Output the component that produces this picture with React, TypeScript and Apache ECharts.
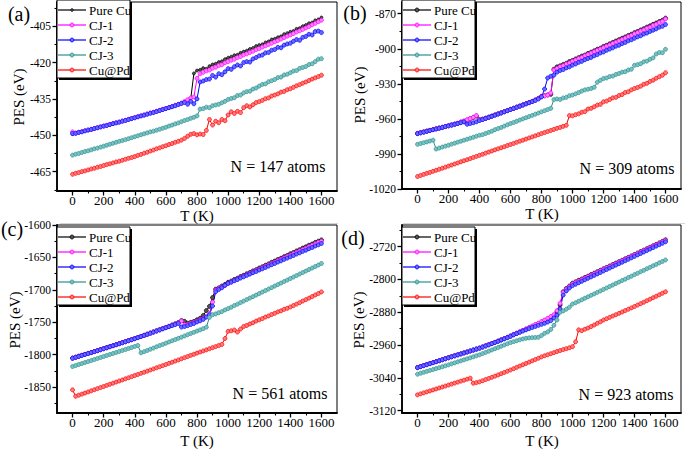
import React, { useEffect, useRef } from "react";
import * as echarts from "echarts";

const T = [0,20,40,60,80,100,120,140,160,180,200,220,240,260,280,300,320,340,360,380,400,420,440,460,480,500,520,540,560,580,600,620,640,660,680,700,720,740,760,780,800,820,840,860,880,900,920,940,960,980,1000,1020,1040,1060,1080,1100,1120,1140,1160,1180,1200,1220,1240,1260,1280,1300,1320,1340,1360,1380,1400,1420,1440,1460,1480,1500,1520,1540,1560,1580,1600];

// ---------- panel (a) N = 147 ----------
const aPure = [-449.5,-449.2,-448.9,-448.5,-448.2,-447.9,-447.6,-447.3,-446.9,-446.6,
 -446.3,-445.9,-445.6,-445.2,-444.9,-444.5,-444.2,-443.8,-443.5,-443.1,
 -442.8,-442.4,-442.0,-441.6,-441.3,-440.9,-440.5,-440.1,-439.8,-439.4,
 -439.0,-438.6,-438.1,-437.7,-437.2,-436.8,-436.2,-435.5,-434.8,-424.5,
 -423.3,-423.0,-422.3,-422.6,-421.5,-420.8,-420.5,-419.8,-419.5,-418.6,
 -418.0,-417.6,-417.0,-416.8,-416.0,-415.5,-415.1,-414.4,-414.0,-413.2,
 -412.8,-412.5,-411.7,-411.3,-410.5,-410.2,-409.6,-409.2,-408.3,-407.9,
 -407.3,-407.0,-406.1,-405.8,-405.0,-404.5,-403.8,-403.5,-402.6,-402.2,
 -401.4];
const aCJ1 = [-448.6,-449.1,-448.8,-448.5,-448.1,-447.9,-447.5,-447.2,-446.9,-446.5,
 -446.2,-445.9,-445.5,-445.2,-444.8,-444.5,-444.1,-443.8,-443.4,-443.1,
 -442.7,-442.3,-442.0,-441.6,-441.2,-440.8,-440.5,-440.1,-439.7,-439.3,
 -438.9,-438.5,-438.1,-437.6,-437.2,-436.7,-436.1,-435.3,-434.6,-434.2,
 -426.5,-424.6,-424.0,-423.4,-423.1,-422.3,-421.9,-421.2,-420.9,-420.1,
 -419.6,-419.0,-418.6,-417.9,-417.5,-416.8,-416.4,-415.8,-415.3,-414.7,
 -414.2,-413.6,-413.1,-412.5,-412.0,-411.4,-410.9,-410.3,-409.7,-409.1,
 -408.6,-408.0,-407.4,-406.9,-406.3,-405.7,-405.1,-404.4,-403.8,-403.1,
 -402.5];
const aCJ2 = [-449.3,-449.2,-448.8,-448.6,-448.2,-447.8,-447.6,-447.2,-446.9,-446.6,
 -446.2,-446.0,-445.6,-445.2,-444.9,-444.6,-444.2,-443.9,-443.5,-443.1,
 -442.8,-442.4,-442.0,-441.7,-441.3,-440.9,-440.6,-440.2,-439.8,-439.4,
 -439.0,-438.6,-438.2,-437.8,-437.3,-436.9,-436.5,-437.2,-436.0,-437.0,
 -435.0,-428.0,-427.6,-427.0,-426.8,-425.3,-426.0,-424.6,-425.0,-423.8,
 -422.5,-422.8,-421.7,-421.0,-421.4,-420.0,-419.6,-419.8,-418.5,-417.9,
 -417.2,-416.9,-416.0,-415.8,-414.9,-414.6,-413.7,-413.9,-412.8,-412.3,
 -412.0,-411.2,-410.5,-410.8,-409.6,-409.2,-408.3,-408.6,-407.2,-407.0,
 -407.6];
const aCJ3 = [-458.2,-457.8,-457.5,-457.1,-456.7,-456.4,-456.0,-455.6,-455.3,-454.9,
 -454.5,-454.1,-453.7,-453.3,-452.9,-452.5,-452.2,-451.8,-451.4,-451.0,
 -450.6,-450.2,-449.8,-449.4,-449.0,-448.6,-448.3,-447.9,-447.5,-447.1,
 -446.7,-446.2,-445.8,-445.3,-444.9,-444.4,-443.9,-443.5,-443.0,-442.6,
 -442.0,-439.2,-439.0,-438.4,-438.6,-437.8,-437.5,-437.2,-436.6,-436.0,
 -435.2,-434.8,-434.5,-433.6,-433.4,-432.5,-432.0,-431.8,-430.9,-430.5,
 -429.7,-429.0,-428.8,-427.9,-427.5,-427.0,-426.2,-426.0,-425.1,-424.8,
 -424.2,-423.5,-423.3,-422.4,-422.0,-421.6,-420.8,-420.5,-419.6,-418.6,
 -418.4];
const aCuPd = [-466.1,-465.7,-465.4,-465.0,-464.7,-464.3,-463.9,-463.6,-463.2,-462.9,
 -462.5,-462.1,-461.8,-461.4,-461.0,-460.7,-460.3,-459.9,-459.5,-459.2,
 -458.8,-458.3,-457.9,-457.4,-457.0,-456.5,-456.1,-455.6,-455.2,-454.7,
 -454.3,-453.8,-453.4,-452.9,-452.5,-452.0,-451.3,-450.4,-449.6,-449.3,
 -449.8,-449.5,-449.7,-448.0,-443.5,-445.8,-444.2,-444.8,-443.5,-444.0,
 -441.6,-440.3,-441.0,-440.1,-440.6,-438.6,-437.8,-438.3,-437.4,-436.5,
 -436.1,-435.6,-434.9,-434.6,-433.8,-433.4,-432.9,-432.2,-431.9,-431.2,
 -430.8,-430.2,-429.6,-429.1,-428.5,-428.0,-427.4,-426.8,-426.3,-425.8,
 -425.2];

// ---------- panel (b) N = 309 ----------
const bPure = [-972.5,-971.8,-971.2,-970.5,-969.8,-969.2,-968.5,-967.8,-967.2,-966.5,
 -965.8,-965.2,-964.5,-963.8,-962.8,-962.0,-961.0,-959.9,-958.8,-957.6,
 -960.6,-960.2,-959.4,-958.5,-957.6,-956.6,-955.7,-954.8,-953.8,-952.8,
 -951.8,-950.9,-949.9,-949.0,-948.0,-947.0,-946.0,-945.0,-943.8,-942.4,
 -940.8,-940.2,-939.5,-939.0,-917.5,-915.5,-914.6,-913.4,-912.4,-911.0,
 -910.0,-908.7,-907.6,-906.3,-905.4,-904.0,-902.9,-901.8,-900.4,-899.5,
 -898.0,-897.0,-895.8,-894.6,-893.4,-892.2,-891.0,-889.9,-888.6,-887.6,
 -886.2,-885.2,-883.9,-882.8,-881.5,-880.4,-879.1,-878.0,-876.7,-875.6,
 -873.8];
const bCJ1 = [-972.4,-971.9,-971.2,-970.5,-969.9,-969.2,-968.5,-967.9,-967.2,-966.5,
 -965.9,-965.2,-964.5,-963.9,-962.6,-961.8,-960.8,-959.8,-958.6,-957.2,
 -960.8,-960.3,-959.5,-958.6,-957.7,-956.7,-955.8,-954.9,-953.9,-952.9,
 -951.9,-951.0,-950.0,-949.1,-948.1,-947.1,-946.1,-945.1,-944.0,-942.6,
 -941.0,-940.4,-939.6,-937.8,-918.2,-916.8,-915.4,-914.5,-913.0,-912.2,
 -910.7,-909.7,-908.3,-907.4,-906.0,-905.0,-903.7,-902.6,-901.4,-900.2,
 -899.1,-897.8,-896.8,-895.5,-894.4,-893.2,-892.0,-890.9,-889.6,-888.6,
 -887.2,-886.2,-884.8,-883.9,-882.4,-881.5,-880.0,-879.1,-877.6,-876.6,
 -874.5];
const bCJ2 = [-972.6,-972.0,-971.3,-970.6,-970.0,-969.3,-968.6,-968.0,-967.3,-966.6,
 -966.0,-965.3,-964.6,-964.0,-963.3,-962.6,-964.6,-964.0,-963.3,-962.5,
 -961.5,-960.6,-959.6,-958.7,-957.8,-956.8,-955.9,-955.0,-954.0,-953.0,
 -952.0,-951.1,-950.1,-949.2,-948.2,-947.2,-946.2,-945.2,-944.2,-943.0,
 -941.2,-934.5,-925.0,-923.5,-922.6,-920.0,-918.6,-917.8,-916.4,-915.5,
 -914.0,-913.0,-911.6,-910.8,-909.4,-908.3,-907.4,-906.0,-905.0,-903.6,
 -902.8,-901.3,-900.3,-899.2,-897.8,-897.0,-895.6,-894.6,-893.2,-892.3,
 -891.0,-889.8,-888.9,-887.4,-886.6,-885.2,-884.1,-883.0,-881.5,-880.8,
 -879.3];
const bCJ3 = [-981.8,-981.1,-980.4,-979.7,-979.0,-978.2,-985.8,-985.0,-984.1,-983.3,
 -982.5,-981.6,-980.8,-979.9,-979.1,-978.2,-977.4,-976.5,-975.7,-974.8,
 -974.0,-973.5,-972.5,-971.5,-970.5,-969.2,-968.3,-967.3,-966.2,-965.1,
 -964.0,-963.1,-962.1,-961.0,-960.0,-959.0,-958.0,-957.0,-956.0,-955.0,
 -954.0,-953.0,-952.0,-951.0,-943.5,-943.0,-943.4,-942.1,-941.6,-940.2,
 -939.6,-938.6,-937.5,-936.2,-935.2,-934.6,-934.0,-933.0,-928.6,-927.0,
 -925.5,-925.0,-923.8,-923.4,-922.0,-921.2,-920.0,-919.6,-918.2,-917.5,
 -914.2,-913.6,-912.8,-911.2,-910.6,-909.0,-907.8,-904.5,-903.2,-903.4,
 -900.5];
const bCuPd = [-1009.3,-1008.4,-1007.5,-1006.6,-1005.8,-1004.9,-1004.0,-1003.1,-1002.2,-1001.3,
 -1000.4,-999.5,-998.6,-997.7,-996.7,-995.8,-994.9,-994.0,-993.0,-992.1,
 -991.2,-990.3,-989.3,-988.4,-987.5,-986.5,-985.6,-984.7,-983.8,-982.8,
 -981.9,-981.0,-980.0,-979.1,-978.2,-977.3,-976.3,-975.4,-974.5,-973.5,
 -972.6,-971.7,-970.8,-969.9,-969.0,-968.1,-967.3,-966.4,-965.5,-957.2,
 -957.4,-956.4,-955.7,-954.3,-953.8,-951.6,-951.0,-949.7,-948.2,-947.6,
 -945.4,-944.8,-943.5,-942.0,-941.6,-940.0,-939.2,-937.4,-936.8,-935.2,
 -934.0,-933.1,-932.0,-930.4,-929.6,-928.0,-926.9,-925.2,-923.9,-922.6,
 -920.5];

// ---------- panel (c) N = 561 ----------
const cPure = [-1805.3,-1803.9,-1802.4,-1801.0,-1799.5,-1798.0,-1796.6,-1795.1,-1793.7,-1792.2,
 -1790.7,-1789.2,-1787.6,-1786.1,-1784.5,-1783.0,-1781.4,-1779.9,-1778.3,-1776.8,
 -1775.2,-1773.5,-1771.8,-1770.1,-1768.4,-1766.7,-1765.0,-1763.3,-1761.6,-1759.9,
 -1758.2,-1756.2,-1754.2,-1752.4,-1750.5,-1747.5,-1748.6,-1751.5,-1750.2,-1748.8,
 -1746.2,-1744.0,-1739.5,-1732.0,-1725.5,-1712.0,-1699.0,-1697.0,-1694.2,-1691.6,
 -1688.4,-1686.5,-1684.0,-1682.1,-1679.6,-1677.6,-1675.2,-1673.3,-1670.8,-1668.9,
 -1666.4,-1664.5,-1662.0,-1660.0,-1657.6,-1655.6,-1653.2,-1651.3,-1648.8,-1646.9,
 -1644.4,-1642.5,-1640.0,-1638.1,-1635.6,-1633.7,-1631.2,-1629.4,-1626.8,-1625.0,
 -1623.0];
const cCJ1 = [-1805.4,-1804.0,-1802.5,-1801.1,-1799.6,-1798.1,-1796.7,-1795.2,-1793.8,-1792.3,
 -1790.8,-1789.3,-1787.7,-1786.2,-1784.6,-1783.1,-1781.5,-1780.0,-1778.4,-1776.9,
 -1775.3,-1773.6,-1771.9,-1770.2,-1768.5,-1766.8,-1765.1,-1763.4,-1761.7,-1760.0,
 -1758.3,-1756.5,-1754.6,-1752.8,-1751.0,-1748.0,-1754.0,-1753.6,-1752.0,-1750.4,
 -1748.2,-1746.4,-1744.5,-1741.8,-1736.5,-1719.0,-1701.0,-1698.0,-1695.6,-1692.8,
 -1690.0,-1687.6,-1685.6,-1683.3,-1681.2,-1679.0,-1676.8,-1674.6,-1672.5,-1670.3,
 -1668.2,-1666.0,-1663.8,-1661.7,-1659.5,-1657.4,-1655.2,-1653.0,-1650.9,-1648.7,
 -1646.6,-1644.4,-1642.2,-1640.1,-1637.9,-1635.8,-1633.6,-1631.4,-1629.3,-1627.1,
 -1625.0];
const cCJ2 = [-1805.5,-1804.1,-1802.6,-1801.2,-1799.7,-1798.2,-1796.8,-1795.3,-1793.9,-1792.4,
 -1790.9,-1789.4,-1787.8,-1786.3,-1784.7,-1783.2,-1781.6,-1780.1,-1778.5,-1777.0,
 -1775.4,-1773.7,-1772.0,-1770.3,-1768.6,-1766.9,-1765.2,-1763.5,-1761.8,-1760.1,
 -1758.4,-1756.8,-1755.2,-1753.6,-1752.0,-1757.5,-1756.6,-1755.2,-1753.5,-1752.0,
 -1749.5,-1747.8,-1745.6,-1742.0,-1738.5,-1725.0,-1703.0,-1699.5,-1696.8,-1693.2,
 -1690.0,-1688.2,-1686.0,-1684.1,-1681.8,-1679.9,-1677.7,-1675.8,-1673.6,-1671.7,
 -1669.5,-1667.6,-1665.4,-1663.4,-1661.3,-1659.3,-1657.2,-1655.3,-1653.0,-1651.1,
 -1649.0,-1647.0,-1644.8,-1643.0,-1640.6,-1638.8,-1636.6,-1634.7,-1632.4,-1630.6,
 -1628.5];
const cCJ3 = [-1818.3,-1816.8,-1815.2,-1813.7,-1812.1,-1810.6,-1809.0,-1807.5,-1805.9,-1804.4,
 -1802.8,-1801.3,-1799.7,-1798.2,-1796.6,-1795.1,-1793.5,-1792.0,-1790.4,-1788.9,
 -1787.3,-1785.8,-1797.2,-1795.4,-1793.5,-1791.6,-1789.8,-1787.9,-1786.0,-1784.2,
 -1782.3,-1780.4,-1778.6,-1776.7,-1774.8,-1773.0,-1771.1,-1769.2,-1767.4,-1765.5,
 -1763.6,-1761.8,-1759.9,-1757.6,-1742.5,-1738.4,-1737.2,-1735.3,-1733.6,-1731.0,
 -1729.0,-1726.8,-1724.3,-1722.1,-1719.7,-1717.4,-1715.1,-1712.7,-1710.5,-1708.1,
 -1705.8,-1703.5,-1701.2,-1698.8,-1696.6,-1694.2,-1691.9,-1689.6,-1687.2,-1685.0,
 -1682.6,-1680.3,-1678.0,-1675.6,-1673.4,-1671.0,-1668.7,-1666.4,-1664.0,-1661.8,
 -1659.3];
const cCuPd = [-1854.3,-1864.2,-1862.5,-1860.9,-1859.2,-1857.5,-1855.8,-1854.1,-1852.4,-1850.8,
 -1849.1,-1847.4,-1845.7,-1844.0,-1842.3,-1840.6,-1839.0,-1837.3,-1835.6,-1833.9,
 -1832.2,-1830.5,-1828.8,-1827.1,-1825.4,-1823.7,-1822.0,-1820.3,-1818.6,-1816.9,
 -1815.2,-1813.4,-1811.7,-1809.9,-1808.2,-1806.4,-1804.6,-1802.9,-1801.1,-1799.4,
 -1797.6,-1795.9,-1794.3,-1792.6,-1790.9,-1789.2,-1787.6,-1785.9,-1784.2,-1775.0,
 -1764.0,-1763.2,-1762.0,-1765.2,-1760.5,-1756.5,-1755.0,-1752.6,-1750.8,-1748.2,
 -1746.2,-1744.4,-1742.0,-1740.3,-1738.0,-1736.2,-1734.0,-1732.4,-1730.1,-1728.5,
 -1726.5,-1724.3,-1722.0,-1719.8,-1717.3,-1715.1,-1712.8,-1710.4,-1708.0,-1705.8,
 -1703.2];

// ---------- panel (d) N = 923 ----------
const dPure = [-3015.0,-3012.6,-3010.2,-3007.8,-3005.4,-3003.0,-3000.6,-2998.2,-2995.8,-2993.4,
 -2991.0,-2988.6,-2986.3,-2983.9,-2981.6,-2979.2,-2976.9,-2974.5,-2972.2,-2969.8,
 -2967.5,-2964.8,-2962.0,-2959.2,-2956.3,-2953.4,-2950.4,-2947.4,-2944.3,-2941.2,
 -2938.0,-2934.7,-2931.4,-2928.0,-2924.6,-2921.2,-2917.8,-2914.4,-2911.0,-2907.5,
 -2904.0,-2900.0,-2896.5,-2892.0,-2887.5,-2879.0,-2862.0,-2830.0,-2822.0,-2816.0,
 -2809.0,-2805.8,-2802.0,-2798.8,-2795.0,-2791.8,-2788.0,-2784.6,-2781.0,-2777.6,
 -2774.0,-2770.6,-2767.0,-2763.6,-2760.0,-2756.5,-2753.0,-2749.5,-2746.0,-2742.5,
 -2739.0,-2735.4,-2731.9,-2728.4,-2724.8,-2721.3,-2717.7,-2714.2,-2710.6,-2707.0,
 -2703.0];
const dCJ1 = [-3015.1,-3012.7,-3010.3,-3007.9,-3005.5,-3003.1,-3000.7,-2998.3,-2995.9,-2993.5,
 -2991.1,-2988.7,-2986.4,-2984.0,-2981.7,-2979.3,-2977.0,-2974.6,-2972.3,-2969.9,
 -2967.6,-2964.9,-2962.1,-2959.3,-2956.4,-2953.5,-2950.5,-2947.5,-2944.4,-2941.3,
 -2938.1,-2934.6,-2931.2,-2927.8,-2924.3,-2920.8,-2917.3,-2913.8,-2910.2,-2906.6,
 -2903.0,-2899.0,-2895.0,-2890.6,-2886.0,-2876.0,-2858.0,-2831.5,-2824.0,-2817.6,
 -2811.0,-2807.5,-2804.0,-2800.4,-2796.9,-2793.3,-2789.8,-2786.3,-2782.7,-2779.2,
 -2775.6,-2772.1,-2768.6,-2765.0,-2761.5,-2757.9,-2754.4,-2750.9,-2747.3,-2743.8,
 -2740.2,-2736.7,-2733.2,-2729.6,-2726.1,-2722.5,-2719.0,-2715.5,-2711.9,-2708.4,
 -2705.0];
const dCJ2 = [-3015.2,-3012.8,-3010.4,-3008.0,-3005.6,-3003.2,-3000.8,-2998.4,-2996.0,-2993.6,
 -2991.2,-2988.8,-2986.5,-2984.1,-2981.8,-2979.4,-2977.1,-2974.7,-2972.4,-2970.0,
 -2967.7,-2965.0,-2962.3,-2959.5,-2956.7,-2953.8,-2950.9,-2947.9,-2944.9,-2941.9,
 -2938.8,-2935.2,-2932.0,-2929.0,-2926.0,-2923.0,-2920.0,-2917.2,-2914.6,-2912.0,
 -2909.5,-2907.0,-2904.0,-2900.5,-2894.0,-2887.0,-2872.0,-2838.0,-2828.0,-2821.0,
 -2815.0,-2811.4,-2807.9,-2804.3,-2800.7,-2797.2,-2793.6,-2790.0,-2786.4,-2782.9,
 -2779.3,-2775.7,-2772.2,-2768.6,-2765.0,-2761.5,-2757.9,-2754.3,-2750.7,-2747.2,
 -2743.6,-2740.0,-2736.5,-2732.9,-2729.3,-2725.8,-2722.2,-2718.6,-2715.0,-2711.5,
 -2708.0];
const dCJ3 = [-3031.2,-3028.9,-3026.7,-3024.4,-3022.1,-3019.9,-3017.6,-3015.3,-3013.0,-3010.8,
 -3008.5,-3006.0,-3003.6,-3001.1,-2998.7,-2996.2,-2993.8,-2991.3,-2988.9,-2986.4,
 -2984.0,-2981.0,-2978.0,-2975.0,-2972.0,-2969.0,-2966.0,-2963.0,-2960.0,-2957.0,
 -2954.0,-2951.8,-2949.6,-2947.4,-2945.2,-2943.5,-2942.6,-2942.0,-2941.5,-2941.2,
 -2937.0,-2931.5,-2928.0,-2922.0,-2912.0,-2899.0,-2880.0,-2876.8,-2872.5,-2867.6,
 -2860.0,-2856.8,-2853.0,-2849.6,-2845.8,-2842.4,-2838.6,-2835.2,-2831.4,-2828.0,
 -2824.2,-2820.8,-2817.0,-2813.6,-2809.8,-2806.4,-2802.6,-2799.2,-2795.4,-2792.0,
 -2788.2,-2784.8,-2781.0,-2777.6,-2773.8,-2770.4,-2766.6,-2763.2,-2759.4,-2756.0,
 -2752.4];
const dCuPd = [-3081.7,-3079.3,-3076.9,-3074.5,-3072.1,-3069.7,-3067.3,-3064.9,-3062.5,-3060.2,
 -3057.8,-3055.4,-3053.0,-3050.6,-3048.2,-3045.8,-3043.4,-3041.0,-3053.2,-3051.8,
 -3050.0,-3047.2,-3044.4,-3041.6,-3038.8,-3036.0,-3033.0,-3030.0,-3027.0,-3024.0,
 -3021.0,-3017.8,-3014.6,-3011.4,-3008.2,-3005.0,-3001.8,-2998.6,-2995.4,-2992.2,
 -2989.0,-2986.4,-2983.8,-2981.2,-2978.6,-2976.0,-2973.6,-2971.2,-2969.0,-2966.8,
 -2964.0,-2952.0,-2923.0,-2925.0,-2921.5,-2918.5,-2915.0,-2911.2,-2907.0,-2903.4,
 -2899.0,-2895.8,-2892.5,-2889.2,-2886.0,-2882.8,-2879.4,-2876.0,-2872.6,-2869.4,
 -2866.0,-2862.5,-2859.0,-2855.4,-2851.8,-2848.2,-2844.6,-2841.0,-2837.3,-2833.6,
 -2830.0];

const SERIES_NAMES = ["Pure Cu", "CJ-1", "CJ-2", "CJ-3", "Cu@Pd"];
const PANEL_DATA = [
  [aPure, aCJ1, aCJ2, aCJ3, aCuPd],
  [bPure, bCJ1, bCJ2, bCJ3, bCuPd],
  [cPure, cCJ1, cCJ2, cCJ3, cCuPd],
  [dPure, dCJ1, dCJ2, dCJ3, dCuPd],
];
const PANEL_LABELS = ["(a)", "(b)", "(c)", "(d)"];
const ATOM_LABELS = ["N = 147 atoms", "N = 309 atoms", "N = 561 atoms", "N = 923 atoms"];
const X_TICKS = [0, 200, 400, 600, 800, 1000, 1200, 1400, 1600];
const X_MINOR = [100, 300, 500, 700, 900, 1100, 1300, 1500];
const Y_TICKS = [
  [-465, -450, -435, -420, -405],
  [-1020, -990, -960, -930, -900, -870],
  [-1850, -1800, -1750, -1700, -1650, -1600],
  [-3120, -3040, -2960, -2880, -2800, -2720],
];
const Y_MINOR = [
  [-472.5, -457.5, -442.5, -427.5, -412.5, -397.5],
  [-1005, -975, -945, -915, -885],
  [-1875, -1825, -1775, -1725, -1675, -1625],
  [-3080, -3000, -2920, -2840, -2760, -2680],
];
const Y_RANGE = [[-473, -395], [-1020, -860], [-1890, -1600], [-3126, -2667]];
const X_RANGE = [-100, 1700];

// styles / layout
const COLORS = ["#000000", "#ff00ff", "#0000ff", "#2a8f8f", "#ff0000"];
const FILLS = ["#555555", "#ff7dff", "#6a6aff", "#7cc2c2", "#ff7a7a"];
const GRIDS = [
  { left: 57, top: 2, width: 280, height: 189 },
  { left: 402, top: 2, width: 279, height: 187 },
  { left: 57, top: 225, width: 280, height: 188 },
  { left: 402, top: 225, width: 279, height: 188 },
];
const LEGEND_BOX = [[57, 0], [402, 0], [57, 227], [402, 227]];
const FONT = "'Liberation Serif', 'Times New Roman', Times, serif";

export default function App() {
  const ref = useRef<HTMLDivElement>(null);
  useEffect(() => {
    if (!ref.current) return;
    const chart = echarts.init(ref.current, undefined, { renderer: "svg" });

    const grid: any[] = [];
    const xAxis: any[] = [];
    const yAxis: any[] = [];
    const series: any[] = [];
    const graphic: any[] = [];
    const plain = (v: number) => String(v);

    GRIDS.forEach((g) => {
      grid.push({ ...g, show: true, borderColor: "#000", borderWidth: 1, backgroundColor: "transparent" });
    });
    // main axes 0..3
    GRIDS.forEach((g, p) => {
      xAxis.push({
        type: "value", gridIndex: p, min: X_RANGE[0], max: X_RANGE[1], position: "bottom",
        axisLine: { show: true, onZero: false, lineStyle: { color: "#000", width: 1.8 } },
        axisTick: { show: true, inside: false, length: 4.5, customValues: X_TICKS, lineStyle: { color: "#000", width: 1.3 } },
        axisLabel: { show: true, customValues: X_TICKS, formatter: plain, margin: 3, fontFamily: FONT, fontSize: 13, color: "#000" },
        splitLine: { show: false },
      });
      yAxis.push({
        type: "value", gridIndex: p, min: Y_RANGE[p][0], max: Y_RANGE[p][1], position: "left",
        axisLine: { show: true, onZero: false, lineStyle: { color: "#000", width: 1.8 } },
        axisTick: { show: true, inside: false, length: 4.5, customValues: Y_TICKS[p], lineStyle: { color: "#000", width: 1.3 } },
        axisLabel: { show: true, customValues: Y_TICKS[p], formatter: plain, margin: 6, fontFamily: FONT, fontSize: 11.5, color: "#000" },
        splitLine: { show: false },
      });
    });
    // minor-tick axes 4..7
    GRIDS.forEach((g, p) => {
      xAxis.push({
        type: "value", gridIndex: p, min: X_RANGE[0], max: X_RANGE[1], position: "bottom",
        axisLine: { show: false, onZero: false },
        axisTick: { show: true, inside: false, length: 2.5, customValues: X_MINOR, lineStyle: { color: "#000", width: 1.1 } },
        axisLabel: { show: false },
        splitLine: { show: false },
      });
      yAxis.push({
        type: "value", gridIndex: p, min: Y_RANGE[p][0], max: Y_RANGE[p][1], position: "left",
        axisLine: { show: false, onZero: false },
        axisTick: { show: true, inside: false, length: 2.5, customValues: Y_MINOR[p], lineStyle: { color: "#000", width: 1.1 } },
        axisLabel: { show: false },
        splitLine: { show: false },
      });
    });

    PANEL_DATA.forEach((arrs, p) => {
      arrs.forEach((arr, s) => {
        series.push({
          type: "line",
          name: SERIES_NAMES[s],
          xAxisIndex: p,
          yAxisIndex: p,
          data: T.map((t, i) => [t, arr[i]]),
          symbol: "circle",
          symbolSize: s === 0 && p === 0 ? 3 : 4,
          showSymbol: true,
          lineStyle: { color: COLORS[s], width: 1 },
          itemStyle: { color: FILLS[s], borderColor: COLORS[s], borderWidth: 0.7 },
          emphasis: { disabled: true },
          silent: true,
        });
      });

      // legend box (drawn as graphic so its size matches the reference)
      const [bx, by] = LEGEND_BOX[p];
      const bw = 73, bh = 78;
      graphic.push({ type: "rect", z: 30, shape: { x: bx + 2, y: by + 2, width: bw, height: bh }, style: { fill: "#000" } });
      graphic.push({ type: "rect", z: 31, shape: { x: bx, y: by, width: bw, height: bh }, style: { fill: "#fff", stroke: "#000", lineWidth: 1 } });
      SERIES_NAMES.forEach((name, s) => {
        const ry = by + 10 + s * 15;
        graphic.push({ type: "line", z: 32, shape: { x1: bx + 1, y1: ry, x2: bx + 29, y2: ry }, style: { stroke: COLORS[s], lineWidth: 1.2 } });
        graphic.push({ type: "circle", z: 33, shape: { cx: bx + 15, cy: ry, r: s === 0 && p === 0 ? 1.3 : 2 }, style: { fill: FILLS[s], stroke: COLORS[s], lineWidth: 0.8 } });
        graphic.push({
          type: "text", z: 33, x: bx + 32, y: ry,
          style: { text: name, fontFamily: FONT, fontSize: 13, fill: "#000", textAlign: "left", textVerticalAlign: "middle" },
        });
      });
    });

    const panelLabelPos = [[19, 14], [355, 13], [12, 229], [353, 238]];
    const atomPos = [[278, 166], [627, 168], [280, 393], [626, 394]];
    const pesPos = [[19, 97], [360, 95], [15, 320], [359, 320]];
    const tkPos = [[197, 216], [542, 214], [197, 441], [542, 441]];
    for (let p = 0; p < 4; p++) {
      graphic.push({
        type: "text", x: panelLabelPos[p][0], y: panelLabelPos[p][1], z: 20,
        style: { text: PANEL_LABELS[p], fontFamily: FONT, fontSize: 20, fill: "#000", textAlign: "center", textVerticalAlign: "middle" },
      });
      graphic.push({
        type: "text", x: atomPos[p][0], y: atomPos[p][1], z: 20,
        style: { text: ATOM_LABELS[p], fontFamily: FONT, fontSize: 16, fill: "#000", textAlign: "center", textVerticalAlign: "middle" },
      });
      graphic.push({
        type: "text", x: pesPos[p][0], y: pesPos[p][1], rotation: Math.PI / 2, z: 20,
        style: { text: "PES (eV)", fontFamily: FONT, fontSize: 15, fill: "#000", textAlign: "center", textVerticalAlign: "middle" },
      });
      graphic.push({
        type: "text", x: tkPos[p][0], y: tkPos[p][1], z: 20,
        style: { text: "T (K)", fontFamily: FONT, fontSize: 15, fill: "#000", textAlign: "center", textVerticalAlign: "middle" },
      });
    }
    graphic.push({ type: "line", shape: { x1: 60, y1: 223.5, x2: 338, y2: 223.5 }, style: { stroke: "#d4d4d4", lineWidth: 1 } });
    graphic.push({ type: "line", shape: { x1: 403, y1: 223.5, x2: 685, y2: 223.5 }, style: { stroke: "#d4d4d4", lineWidth: 1 } });

    chart.setOption({
      animation: false,
      backgroundColor: "#ffffff",
      textStyle: { fontFamily: FONT },
      grid,
      xAxis,
      yAxis,
      series,
      graphic,
    });
    return () => chart.dispose();
  }, []);
  return <div ref={ref} style={{ position: "absolute", left: 0, top: 0, width: 685, height: 449 }} />;
}
